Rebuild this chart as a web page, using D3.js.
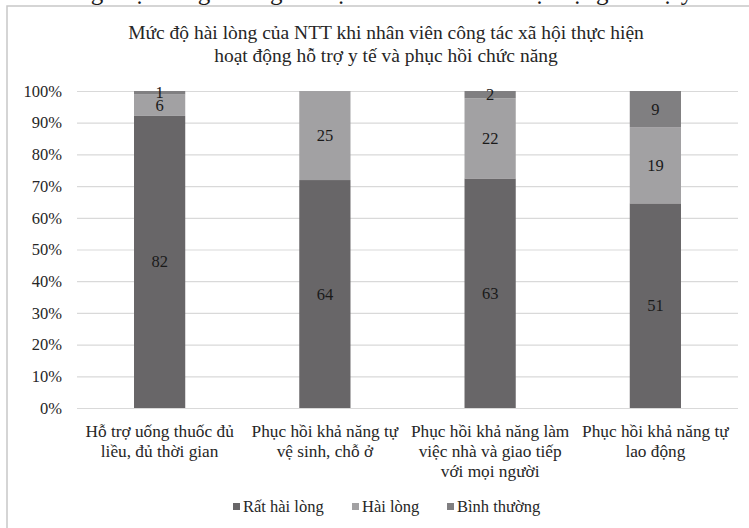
<!DOCTYPE html>
<html>
<head>
<meta charset="utf-8">
<script src="https://d3js.org/d3.v7.min.js"></script>
<style>
	body { margin: 0; background: #fff; }
	text { font-family: "Liberation Serif", "Times New Roman", serif; fill: #262626; }
</style>
</head>
<body>
<div id="chart"></div>
<script>
// data (counts, drawn as 100% stacks)
var categories = [
	["Hỗ trợ uống thuốc đủ", "liều, đủ thời gian"],
	["Phục hồi khả năng tự", "vệ sinh, chỗ ở"],
	["Phục hồi khả năng làm", "việc nhà và giao tiếp", "với mọi người"],
	["Phục hồi khả năng tự", "lao động"]
];
var ratHaiLong = [82, 64, 63, 51];
var haiLong = [6, 25, 22, 19];
var binhThuong = [1, 0, 2, 9];
var seriesNames = ["Rất hài lòng", "Hài lòng", "Bình thường"];
var seriesColors = ["#686668", "#a2a1a3", "#807f81"];
var yTicks = [0, 0.1, 0.2, 0.3, 0.4, 0.5, 0.6, 0.7, 0.8, 0.9, 1];
var titleLines = [
	"Mức độ hài lòng của NTT khi nhân viên công tác xã hội thực hiện",
	"hoạt động hỗ trợ y tế và phục hồi chức năng"
];

var w = 749;
var h = 528;
var svg = d3.select("#chart")
	.append("svg")
	.attr("width", w)
	.attr("height", h);

// bit of the document line above the chart, cut by the crop
svg.append("text")
	.attr("x", -30)
	.attr("y", 0)
	.attr("font-size", "25px")
	.style("fill", "#1a1a1a")
	.text("hành vi trong cuộc sống của người bệnh tâm thần với hoạt động hỗ trợ y tế và phục hồi");

// chart frame
svg.append("rect")
	.attr("x", 7)
	.attr("y", 6)
	.attr("width", 780)
	.attr("height", 540)
	.attr("fill", "#fff")
	.attr("stroke", "#c8c8c8")
	.attr("stroke-width", 1.5);

svg.selectAll(".title")
	.data(titleLines)
	.enter()
	.append("text")
	.attr("class", "title")
	.attr("x", 386)
	.attr("y", function(d, i) { return 39 + i * 23; })
	.attr("text-anchor", "middle")
	.attr("font-size", "19.5px")
	.text(function(d) { return d; });

var plot = { left: 77, right: 738, top: 91, bottom: 408 };

var xScale = d3.scaleBand()
	.domain(d3.range(categories.length))
	.range([plot.left, plot.right])
	.paddingInner(0.69)
	.paddingOuter(0.345);
var yScale = d3.scaleLinear()
	.domain([0, 1])
	.range([plot.bottom, plot.top]);

// gridlines + labels
var yAxis = d3.axisLeft(yScale)
	.tickValues(yTicks)
	.tickFormat(d3.format(".0%"))
	.tickSize(-(plot.right - plot.left))
	.tickPadding(15);
var gy = svg.append("g")
	.attr("transform", "translate(" + plot.left + ",0)")
	.call(yAxis);
gy.select(".domain").remove();
gy.selectAll("line").attr("stroke", "#d9d9d9").attr("stroke-width", 1.2);
gy.selectAll("text")
	.attr("font-size", "16.5px")
	.style("fill", "#262626");

// stack the three series as shares of each bar's total
var rows = categories.map(function(c, i) {
	var total = ratHaiLong[i] + haiLong[i] + binhThuong[i];
	return { i: i, vals: [ratHaiLong[i], haiLong[i], binhThuong[i]], total: total };
});
var stack = d3.stack()
	.keys([0, 1, 2])
	.value(function(d, k) { return d.vals[k] / d.total; });
var layers = stack(rows);

var layer = svg.selectAll(".layer")
	.data(layers)
	.enter()
	.append("g")
	.attr("class", "layer")
	.attr("fill", function(d) { return seriesColors[d.key]; });

layer.selectAll("rect")
	.data(function(d) { return d; })
	.enter()
	.append("rect")
	.attr("x", function(d) { return xScale(d.data.i); })
	.attr("width", xScale.bandwidth())
	.attr("y", function(d) { return yScale(d[1]); })
	.attr("height", function(d) { return yScale(d[0]) - yScale(d[1]); });

layer.selectAll("text")
	.data(function(d) {
		return d.map(function(p) { p.k = d.key; return p; })
			.filter(function(p) { return p.data.vals[p.k] > 0; });
	})
	.enter()
	.append("text")
	.attr("x", function(d) { return xScale(d.data.i) + xScale.bandwidth() / 2; })
	.attr("y", function(d) { return yScale((d[0] + d[1]) / 2) + 5.5; })
	.attr("text-anchor", "middle")
	.attr("font-size", "16.5px")
	.style("fill", "#1a1a1a")
	.text(function(d) { return d.data.vals[d.k]; });

// category labels, wrapped as in the source
var cat = svg.selectAll(".cat")
	.data(categories)
	.enter()
	.append("text")
	.attr("class", "cat")
	.attr("text-anchor", "middle")
	.attr("font-size", "17.3px");
cat.selectAll("tspan")
	.data(function(d, i) { return d.map(function(s) { return { s: s, i: i }; }); })
	.enter()
	.append("tspan")
	.attr("x", function(d) { return xScale(d.i) + xScale.bandwidth() / 2; })
	.attr("y", function(d, j) { return 437 + j * 20; })
	.text(function(d) { return d.s; });

// legend
var legendX = [233, 352, 447];
var legend = svg.selectAll(".legend")
	.data(seriesNames)
	.enter()
	.append("g")
	.attr("class", "legend")
	.attr("transform", function(d, i) { return "translate(" + legendX[i] + ",512)"; });
legend.append("rect")
	.attr("x", 0)
	.attr("y", -9)
	.attr("width", 7)
	.attr("height", 7)
	.attr("fill", function(d, i) { return seriesColors[i]; });
legend.append("text")
	.attr("x", 10)
	.attr("y", 0)
	.attr("font-size", "16.5px")
	.text(function(d) { return d; });
</script>
</body>
</html>
